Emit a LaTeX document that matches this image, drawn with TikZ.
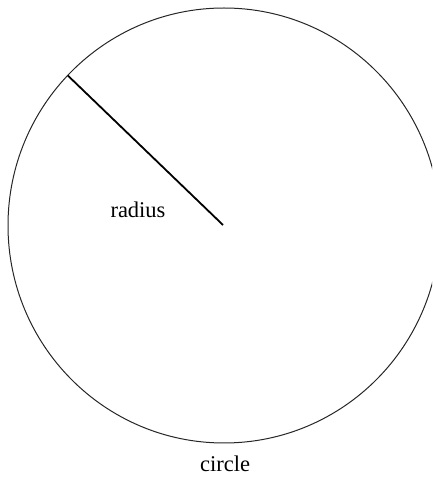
\documentclass[tikz,border=0pt]{standalone}
\usepackage{fontspec}
\setmainfont{Liberation Serif}
\begin{document}
\begin{tikzpicture}[x=1pt,y=1pt,
  lbl/.style={font=\fontsize{22.5}{26}\selectfont, inner sep=0pt}]
\useasboundingbox (0,0) rectangle (432,482);
\begin{scope}
\clip (0,0) rectangle (432,482);
\coordinate (c) at (224,256.5);
\draw[line width=1pt, black!85] (c) circle [x radius=216, y radius=217.5];
\coordinate (e) at (68,406.3);
\draw[line width=1.8pt] (e) -- (223,257);
\end{scope}
\node[lbl] (r) at (138,272) {radius};
\node[lbl] (ci) at (225,18) {circle};
\end{tikzpicture}
\end{document}
